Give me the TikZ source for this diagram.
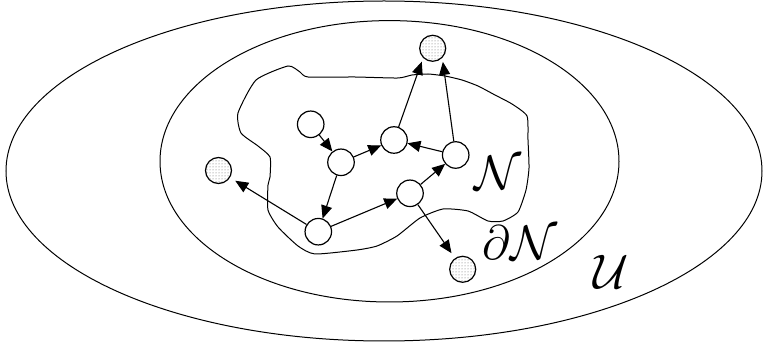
\documentclass[tikz,border=0pt]{standalone}
\usepackage{graphicx}
\usetikzlibrary{arrows.meta,patterns}
\tikzset{
  wnode/.style={circle,draw,line width=1.2pt,fill=white,minimum size=26.5pt,inner sep=0pt},
  snode/.style={circle,draw,line width=1.2pt,minimum size=26pt,inner sep=0pt,preaction={fill=white},pattern=dots,pattern color=black!60},
  conn/.style={line width=1.1pt,-{Triangle[length=13pt,width=11pt]}},
  region/.style={line width=1pt},
  lbl/.style={inner sep=0pt}
}
\newcommand{\biglbl}[1]{\scalebox{1.95}{\Huge$#1$}}
\begin{document}
\begin{tikzpicture}[x=1pt,y=-1pt]
\useasboundingbox (0,0) rectangle (764,347);
\draw[region] (384,171) ellipse [x radius=378, y radius=170];
\draw[region] (389.5,161.3) ellipse [x radius=229.5, y radius=140.7];
% blob N
\draw[region] plot[smooth cycle, tension=0.35] coordinates {
 (308,77) (355,77) (398,78) (412,75) (428,74) (445,76) (462,80) (478,86) (495,95) (512,104) (527,116)
 (528,140) (529,168) (526,190) (518,212) (503,221) (488,221) (468,211) (443,209) (420,218) (397,236)
 (377,246) (357,250) (315,254) (298,246) (278,227) (268,210) (268,185) (270,177) (270,157) (258,146)
 (241,133) (238,113) (256,80) (288,66) (300,72)};
% nodes
\node[wnode] (a) at (310.7,124.3) {};
\node[wnode] (b) at (341,162.3) {};
\node[wnode] (c) at (394,140) {};
\node[wnode] (d) at (455.7,155) {};
\node[wnode] (e) at (410,193.3) {};
\node[wnode] (f) at (318.3,231.7) {};
\node[snode] (top) at (432.7,48.3) {};
\node[snode] (left) at (218.5,170.5) {};
\node[snode] (bot) at (462.7,269.3) {};
% edges
\draw[conn] (a) -- (b);
\draw[conn] (b) -- (c);
\draw[conn] (d) -- (c);
\draw[conn] (e) -- (d);
\draw[conn] (f) -- (e);
\draw[conn] (b) -- (f);
\draw[conn,shorten >=6pt] (f) -- (left);
\draw[conn,shorten >=6pt] (e) -- (bot);
\draw[conn,shorten >=4pt] (c) -- (top.-135);
\draw[conn,shorten >=4pt] (d) -- (top.-45);
% labels
\node[lbl] (ln) at (498,173) {\biglbl{\mathcal{N}}};
\node[lbl] (ldn) at (520,243) {\biglbl{\partial\mathcal{N}}};
\node[lbl] (lu) at (611,272) {\biglbl{\mathcal{U}}};
\end{tikzpicture}
\end{document}
